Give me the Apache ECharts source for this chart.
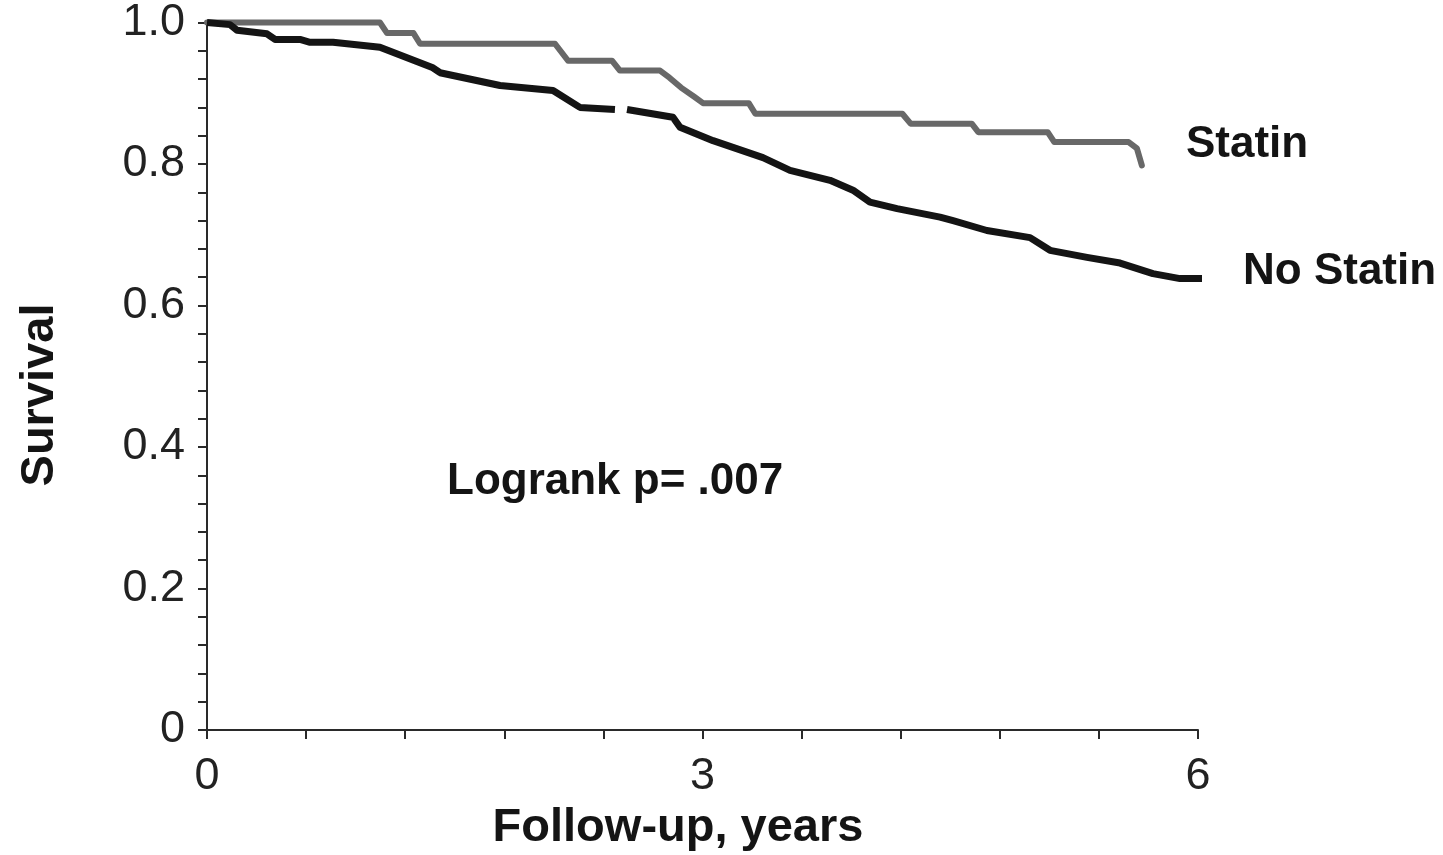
<!DOCTYPE html>
<html>
<head>
<meta charset="utf-8">
<title>Survival by statin use</title>
<script src="https://cdn.jsdelivr.net/npm/echarts@6/dist/echarts.min.js"></script>
<style>
  html, body { margin: 0; padding: 0; background: #ffffff; }
  #chart { width: 1443px; height: 855px; }
</style>
</head>
<body>
<div id="chart"></div>
<script>
// Kaplan-Meier survival estimates: [follow-up years, survival proportion]
const statinCurve = [
  [0, 1.0], [1.047, 1.0], [1.09, 0.985], [1.25, 0.985], [1.29, 0.970],
  [2.107, 0.970], [2.186, 0.946], [2.452, 0.946], [2.50, 0.932], [2.743, 0.932],
  [2.80, 0.922], [2.87, 0.908], [2.95, 0.895], [3.003, 0.886], [3.28, 0.886],
  [3.32, 0.871], [4.21, 0.871], [4.26, 0.857], [4.63, 0.857], [4.67, 0.845],
  [5.09, 0.845], [5.13, 0.831], [5.58, 0.831], [5.63, 0.822], [5.66, 0.798]
];

const noStatinCurve = [
  [0, 1.0], [0.139, 0.997], [0.182, 0.989], [0.363, 0.984], [0.412, 0.976],
  [0.563, 0.976], [0.624, 0.972], [0.763, 0.972], [1.047, 0.965], [1.368, 0.936],
  [1.411, 0.929], [1.774, 0.911], [2.095, 0.904], [2.258, 0.880], [2.47, 0.877],
  [2.50, null],
  [2.543, 0.877], [2.821, 0.866], [2.864, 0.852], [3.064, 0.833], [3.366, 0.809],
  [3.53, 0.791], [3.772, 0.777], [3.911, 0.763], [4.014, 0.746], [4.178, 0.737],
  [4.438, 0.725], [4.517, 0.720], [4.722, 0.706], [4.983, 0.696], [5.104, 0.678],
  [5.328, 0.668], [5.528, 0.660], [5.727, 0.645], [5.891, 0.638], [6.03, 0.638]
];

// Axis ranges, tick steps and the tick values that carry labels
const xRange = [0, 6];
const xTickStep = 0.6;
const xLabelled = [0, 3, 6];
const yRange = [0, 1];
const yTickStep = 0.04;
const yLabelled = [0, 0.2, 0.4, 0.6, 0.8, 1.0];

const seriesNames = ['Statin', 'No Statin'];
const annotation = 'Logrank p= .007';
const xTitle = 'Follow-up, years';
const yTitle = 'Survival';

const FONT = '"Liberation Sans", Arial, Helvetica, sans-serif';
const INK = '#141414';

const near = (v, list) => list.some(t => Math.abs(v - t) < 1e-6);

const chart = echarts.init(document.getElementById('chart'), null, { renderer: 'canvas' });

chart.setOption({
  animation: false,
  backgroundColor: '#ffffff',
  grid: { left: 207, right: 245, top: 22, bottom: 125, containLabel: false },
  xAxis: {
    type: 'value',
    min: xRange[0], max: xRange[1], interval: xTickStep,
    axisLine: { show: true, onZero: false, lineStyle: { color: '#2a2a2a', width: 2 } },
    axisTick: { show: true, inside: false, length: 9, lineStyle: { color: '#2a2a2a', width: 2 } },
    splitLine: { show: false },
    axisLabel: {
      margin: 24,
      color: '#222',
      fontFamily: FONT,
      fontSize: 45,
      formatter: v => near(v, xLabelled) ? String(Math.round(v)) : ''
    }
  },
  yAxis: {
    type: 'value',
    min: yRange[0], max: yRange[1], interval: yTickStep,
    axisLine: { show: true, onZero: false, lineStyle: { color: '#2a2a2a', width: 2 } },
    axisTick: { show: true, inside: false, length: 9, lineStyle: { color: '#2a2a2a', width: 2 } },
    splitLine: { show: false },
    axisLabel: {
      margin: 22,
      color: '#222',
      fontFamily: FONT,
      fontSize: 45,
      formatter: v => {
        if (!near(v, yLabelled)) return '';
        return Math.abs(v) < 1e-9 ? '0' : v.toFixed(1);
      }
    }
  },
  series: [
    {
      name: seriesNames[0],
      type: 'line',
      data: statinCurve,
      showSymbol: false,
      clip: false,
      lineStyle: { color: '#686868', width: 6, join: 'round', cap: 'round' },
      z: 2
    },
    {
      name: seriesNames[1],
      type: 'line',
      data: noStatinCurve,
      showSymbol: false,
      connectNulls: false,
      clip: false,
      lineStyle: { color: '#141414', width: 7, join: 'round', cap: 'butt' },
      z: 3
    }
  ],
  graphic: [
    {
      type: 'text', x: 1186, y: 145,
      style: { text: seriesNames[0], font: 'bold 44px ' + FONT, fill: INK, align: 'left', verticalAlign: 'middle' }
    },
    {
      type: 'text', x: 1243, y: 272,
      style: { text: seriesNames[1], font: 'bold 44px ' + FONT, fill: INK, align: 'left', verticalAlign: 'middle' }
    },
    {
      type: 'text', x: 447, y: 482,
      style: { text: annotation, font: 'bold 44px ' + FONT, fill: INK, align: 'left', verticalAlign: 'middle' }
    },
    {
      type: 'text', x: 678, y: 828,
      style: { text: xTitle, font: 'bold 47px ' + FONT, fill: INK, align: 'center', verticalAlign: 'middle' }
    },
    {
      type: 'text', x: 40, y: 395, rotation: Math.PI / 2,
      style: { text: yTitle, font: 'bold 47px ' + FONT, fill: INK, align: 'center', verticalAlign: 'middle' }
    }
  ]
});
</script>
</body>
</html>
